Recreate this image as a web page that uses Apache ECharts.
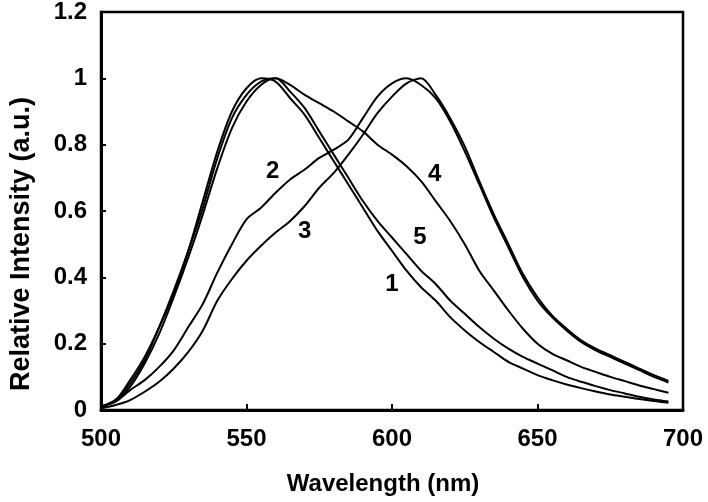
<!DOCTYPE html>
<html>
<head>
<meta charset="utf-8">
<script src="https://cdn.jsdelivr.net/npm/echarts@6/dist/echarts.min.js"></script>
<style>html,body{margin:0;padding:0;background:#fff}#c{width:708px;height:502px}</style>
</head>
<body>
<div id="c"></div>
<script>
var wavelengths = [500,505,510,515,520,525,530,535,540,545,550,555,560,565,570,575,580,585,590,595,600,605,610,615,620,625,630,635,640,645,650,655,660,665,670,675,680,685,690,695];
var curve1 = [0.01,0.03,0.09,0.16,0.25,0.35,0.48,0.63,0.78,0.90,0.97,1.00,0.99,0.94,0.89,0.82,0.75,0.68,0.61,0.54,0.48,0.42,0.37,0.33,0.28,0.24,0.205,0.175,0.145,0.125,0.105,0.09,0.077,0.066,0.056,0.047,0.04,0.033,0.027,0.022];
var curve2 = [0.01,0.025,0.06,0.09,0.13,0.18,0.25,0.32,0.415,0.50,0.575,0.61,0.655,0.695,0.725,0.76,0.785,0.815,0.88,0.945,0.985,1.00,0.98,0.94,0.87,0.78,0.68,0.58,0.49,0.40,0.33,0.28,0.24,0.205,0.18,0.16,0.14,0.12,0.10,0.083];
var curve3 = [0.005,0.015,0.03,0.055,0.085,0.125,0.175,0.24,0.33,0.395,0.45,0.495,0.535,0.57,0.615,0.67,0.715,0.77,0.83,0.895,0.945,0.985,1.00,0.95,0.88,0.795,0.69,0.59,0.50,0.41,0.34,0.285,0.245,0.21,0.185,0.165,0.145,0.125,0.105,0.088];
var curve4 = [0.01,0.03,0.07,0.14,0.23,0.34,0.46,0.59,0.73,0.85,0.93,0.98,1.00,0.98,0.95,0.925,0.90,0.87,0.84,0.80,0.77,0.735,0.69,0.63,0.57,0.50,0.42,0.36,0.30,0.245,0.20,0.17,0.15,0.13,0.115,0.10,0.087,0.074,0.063,0.052];
var curve5 = [0.01,0.03,0.08,0.15,0.25,0.36,0.48,0.61,0.76,0.88,0.95,0.99,1.00,0.96,0.91,0.84,0.77,0.70,0.63,0.57,0.52,0.47,0.42,0.38,0.33,0.29,0.25,0.215,0.185,0.16,0.14,0.12,0.10,0.085,0.072,0.06,0.05,0.04,0.032,0.026];
var curveNames = ['1','2','3','4','5'];
var labelX = [600, 559, 570, 614.7, 609.6];
var labelY = [0.38, 0.72, 0.54, 0.71, 0.52];
var xTicks = [500,550,600,650,700];
var yTicks = [0,0.2,0.4,0.6,0.8,1,1.2];

var curves = [curve1, curve2, curve3, curve4, curve5];
function pairs(vals){ return wavelengths.map(function(w,i){ return [w, vals[i]]; }); }
var FONT = 'Liberation Sans, Arial, sans-serif';

var series = curves.map(function(c, i){
  return {
    type: 'line', name: curveNames[i], data: pairs(c), smooth: 0.3,
    showSymbol: false, symbol: 'none',
    lineStyle: { color: '#000', width: 2 }, z: 2
  };
});
series.push({
  type: 'scatter', symbolSize: 0, silent: true, z: 5,
  itemStyle: { opacity: 1, color: '#000' },
  data: labelX.map(function(x,i){ return { value: [x, labelY[i]], name: curveNames[i] }; }),
  label: { show: true, position: 'inside', formatter: '{b}', color: '#000', opacity: 1,
           fontFamily: FONT, fontWeight: 'bold', fontSize: 24 }
});

var chart = echarts.init(document.getElementById('c'), null, { renderer: 'canvas' });
chart.setOption({
  animation: false,
  backgroundColor: '#fff',
  grid: { left: 97, right: 25, top: 11, bottom: 92, show: true, borderColor: '#000', borderWidth: 2.5, backgroundColor: 'transparent' },
  xAxis: {
    type: 'value', min: xTicks[0], max: xTicks[xTicks.length-1], interval: 50,
    name: 'Wavelength (nm)', nameLocation: 'middle', nameGap: 62,
    nameTextStyle: { color: '#000', fontFamily: FONT, fontWeight: 'bold', fontSize: 24, padding: [0, 18, 0, 0] },
    axisLine: { show: true, onZero: false, lineStyle: { color: '#000', width: 3 } },
    axisTick: { show: true, inside: true, length: 6, lineStyle: { color: '#000', width: 2 } },
    axisLabel: { margin: 17, color: '#000', fontFamily: FONT, fontWeight: 'bold', fontSize: 24 },
    splitLine: { show: false }
  },
  yAxis: {
    type: 'value', min: yTicks[0], max: yTicks[yTicks.length-1], interval: 0.2,
    name: 'Relative Intensity (a.u.)', nameLocation: 'middle', nameGap: 66, nameRotate: 90,
    nameTextStyle: { color: '#000', fontFamily: FONT, fontWeight: 'bold', fontSize: 27, padding: [0, 66, 0, 0] },
    axisLine: { show: true, onZero: false, lineStyle: { color: '#000', width: 3 } },
    axisTick: { show: true, inside: true, length: 5, lineStyle: { color: '#000', width: 2 } },
    axisLabel: { margin: 14, color: '#000', fontFamily: FONT, fontWeight: 'bold', fontSize: 24 },
    splitLine: { show: false }
  },
  series: series
});
</script>
</body>
</html>
